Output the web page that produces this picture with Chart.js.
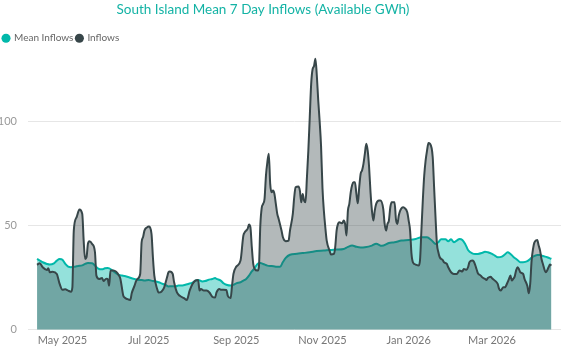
<!DOCTYPE html>
<html>
<head>
<meta charset="utf-8">
<script src="https://cdn.jsdelivr.net/npm/chart.js@4.4.1/dist/chart.umd.min.js"></script>
<style>
  html, body { margin: 0; padding: 0; background: #fff; }
  #wrap { width: 570px; height: 351px; }
</style>
</head>
<body>
<div id="wrap"><canvas id="myChart"></canvas></div>
<script>
// 日付は 2025-04-13 からの日数

// 月のラベル (日数, 表示)
var monthTickDays = [18, 79, 141, 202, 263, 322];
var monthTickLabels = ["May 2025", "Jul 2025", "Sep 2025", "Nov 2025", "Jan 2026", "Mar 2026"];

// 縦軸の目盛り
var yTicks = [0, 50, 100];

// Inflows (日数, GWh)
var inflowDays = [0, 2, 4, 7, 8, 9, 11, 14, 16, 18, 20, 22, 24, 25, 26, 28, 30, 32, 33, 34, 35, 36, 37, 39, 41, 42, 44, 46, 47, 49, 50, 51, 52, 54, 56, 58, 59, 61, 62, 64, 66, 67, 69, 70,
  71, 73, 74, 75, 76, 78, 79, 81, 82, 83, 85, 86, 88, 90, 92, 93, 94, 96, 97, 99, 101, 104, 106, 108, 110, 112, 114, 115, 116, 118, 120, 122, 124, 126, 127, 129, 130, 132, 134, 135, 137, 138, 139, 141,
  144, 146, 147, 148, 149, 150, 151, 152, 153, 154, 156, 157, 158, 159, 160, 161, 162, 163, 164, 165, 166, 167, 168, 169, 170, 171, 173, 174, 176, 178, 179, 181, 182, 183, 185, 186, 187, 188, 189, 190,
  191, 192, 193, 194, 195, 196, 197, 198, 199, 200, 201, 202, 203, 204, 205, 207, 208, 210, 211, 212, 213, 214, 216, 217, 218, 219, 220, 221, 222, 223, 224, 225, 226, 227, 228, 229, 230, 231, 232, 233,
  234, 235, 236, 237, 238, 239, 240, 242, 243, 245, 246, 247, 248, 249, 250, 251, 253, 254, 255, 256, 257, 259, 260, 262, 263, 264, 265, 266, 268, 270, 271, 272, 273, 274, 275, 276, 277, 278, 280, 281,
  282, 283, 284, 285, 287, 288, 290, 291, 293, 295, 297, 299, 301, 302, 304, 305, 306, 308, 309, 310, 311, 312, 314, 315, 317, 318, 319, 321, 322, 324, 326, 327, 328, 330, 331, 333, 334, 335, 336, 337,
  338, 339, 340, 341, 342, 344, 345, 347, 348, 349, 350, 351, 352, 354, 355, 356, 357, 358, 360, 361, 362, 363, 364];
var inflowValues = [31.2, 31.9, 30.0, 28.7, 29.5, 27.6, 27.9, 26.8, 22.0, 19.2, 19.4, 18.8, 18.3, 20.4, 47.6, 54.0, 57.7, 55.6, 42.8, 34.0, 34.8, 41.2, 42.5, 41.2, 37.2, 26.0, 24.4, 24.8, 23.4, 24.5, 24.4, 21.2, 28.4, 28.4, 27.8, 26.0, 24.4, 16.5, 15.5, 14.7, 14.3, 17.5, 21.2, 23.2,
  24.4, 26.8, 42.0, 44.4, 47.6, 49.2, 49.5, 46.0, 34.8, 26.0, 19.6, 17.9, 18.3, 20.4, 25.2, 27.6, 28.0, 26.8, 22.8, 17.9, 16.3, 15.2, 14.3, 18.8, 22.0, 23.6, 23.9, 18.8, 19.6, 18.8, 18.8, 17.9, 15.9, 15.5, 17.9, 19.6, 19.2, 19.2, 19.1, 16.3, 15.2, 21.2, 26.8, 30.3,
  33.2, 45.2, 46.8, 47.6, 48.4, 50.5, 49.2, 39.6, 31.6, 29.2, 28.4, 30.0, 50.0, 58.5, 60.4, 62.8, 74.0, 80.5, 84.5, 70.0, 66.0, 66.8, 65.2, 60.4, 55.6, 53.2, 47.6, 44.4, 42.5, 42.8, 47.6, 55.6, 63.6, 68.4, 68.8, 66.8, 61.2, 65.2, 62.0, 61.2,
  73.2, 86.1, 102.1, 118.0, 125.0, 126.5, 130.0, 122.0, 110.0, 100.0, 88.0, 68.0, 57.0, 49.2, 42.8, 38.0, 36.1, 36.4, 39.6, 47.6, 50.8, 51.6, 51.1, 52.4, 50.8, 45.2, 57.2, 60.4, 66.0, 69.5, 70.8, 70.8, 65.2, 60.7, 68.4, 74.8, 76.4, 79.6, 84.5, 89.3,
  86.0, 78.0, 66.0, 57.2, 52.4, 57.2, 60.4, 62.0, 62.0, 58.0, 50.8, 47.6, 50.8, 52.4, 58.8, 61.2, 61.2, 53.0, 50.8, 54.8, 57.2, 58.8, 58.5, 56.4, 52.4, 47.6, 36.4, 32.4, 31.3, 30.8, 33.2, 47.6, 62.0, 74.0, 81.3, 86.0, 89.6, 89.3, 82.9, 68.4,
  54.0, 41.2, 37.2, 34.8, 33.5, 32.4, 31.6, 30.0, 27.6, 26.8, 26.8, 28.4, 28.0, 29.2, 28.8, 30.0, 32.4, 33.2, 32.8, 31.3, 29.2, 27.1, 26.0, 25.2, 24.4, 23.9, 24.8, 25.5, 24.7, 23.6, 22.0, 19.6, 18.8, 20.4, 20.4, 22.8, 24.4, 26.0, 23.6, 24.4,
  25.5, 28.4, 30.0, 29.2, 27.6, 26.8, 24.4, 21.0, 17.5, 22.0, 33.2, 38.8, 42.0, 43.1, 40.4, 38.0, 34.0, 31.6, 27.6, 28.4, 30.0, 31.3, 30.8];

// Mean Inflows (日数, GWh)
var meanDays = [0, 2, 4, 7, 9, 12, 14, 16, 18, 20, 22, 24, 27, 29, 32, 34, 36, 39, 41, 43, 46, 48, 50, 53, 55, 58, 60, 62, 65, 67, 69, 72, 74, 76, 79, 81, 84, 86, 88, 91, 93, 95, 98, 100, 102, 105, 107, 110, 112, 114,
  117, 119, 121, 124, 126, 127, 130, 132, 134, 137, 139, 141, 144, 146, 148, 150, 152, 154, 156, 158, 160, 163, 166, 169, 172, 174, 176, 179, 184, 188, 193, 198, 203, 207, 212, 217, 220, 223, 226, 229,
  232, 237, 240, 244, 249, 253, 258, 263, 268, 272, 276, 279, 282, 284, 286, 289, 291, 293, 295, 297, 299, 301, 303, 305, 308, 310, 312, 315, 317, 319, 322, 324, 326, 329, 331, 333, 335, 337, 340, 342,
  344, 347, 349, 351, 354, 356, 358, 361, 363, 364];
var meanValues = [34.0, 33.2, 32.4, 31.6, 31.3, 31.9, 33.2, 34.0, 33.6, 31.6, 30.3, 30.0, 30.3, 30.6, 30.9, 31.6, 32.0, 31.9, 30.8, 29.5, 29.0, 29.5, 29.6, 28.7, 27.6, 26.3, 26.0, 25.8, 25.2, 24.7, 24.4, 23.9, 23.9, 23.6, 23.9, 23.6, 23.2, 22.8, 22.3, 21.5, 20.8, 20.9, 20.8, 21.2, 21.2, 21.6, 22.0, 22.6, 23.6, 23.9,
  23.2, 23.4, 23.9, 24.4, 24.8, 24.4, 23.6, 22.3, 21.6, 21.2, 21.6, 22.3, 22.8, 23.6, 24.4, 26.0, 28.0, 29.6, 31.6, 32.0, 31.6, 30.8, 30.6, 30.3, 30.2, 32.5, 34.5, 36.0, 36.5, 36.8, 37.2, 37.8, 38.0, 38.3, 38.5, 38.8, 39.8, 40.4, 39.8, 39.5,
  39.6, 40.4, 41.3, 40.3, 41.6, 42.0, 42.8, 43.1, 43.6, 44.4, 44.4, 43.1, 41.2, 42.0, 43.4, 43.4, 42.5, 43.4, 42.0, 42.8, 43.6, 43.1, 41.2, 38.3, 36.7, 36.4, 36.4, 36.9, 37.5, 37.2, 36.4, 35.6, 34.8, 35.1, 36.1, 37.2, 36.4, 35.1, 33.5, 32.4,
  32.4, 32.9, 34.0, 35.1, 35.9, 35.9, 35.4, 34.8, 34.3, 34.0];

function toPoints(days, values) {
    return days.map(function (d, i) { return { x: d, y: values[i] }; });
}

var font = "Lato, 'Open Sans', sans-serif";

// タイトルの中心位置を少し左へ
var titleShift = {
    id: "titleShift",
    afterLayout: function (chart) {
        chart.titleBlock.left = 0;
        chart.titleBlock.right = 526;
    },
};

var ctx = document.getElementById("myChart");
var myChart = new Chart(ctx, {
    type: "line",
    plugins: [titleShift],
    data: {
        datasets: [
            {
                label: "Mean Inflows",
                data: toPoints(meanDays, meanValues),
                borderColor: "#01B8AA",
                backgroundColor: "rgba(1, 184, 170, 0.42)",
                borderWidth: 2,
                fill: "origin",
                pointRadius: 0,
                cubicInterpolationMode: "monotone",
                order: 1,
            },
            {
                label: "Inflows",
                data: toPoints(inflowDays, inflowValues),
                borderColor: "#374649",
                backgroundColor: "rgba(55, 70, 73, 0.38)",
                borderWidth: 2,
                fill: "origin",
                pointRadius: 0,
                cubicInterpolationMode: "monotone",
                order: 0,
            },
        ],
    },
    options: {
        responsive: true,
        maintainAspectRatio: false,
        animation: false,
        layout: { padding: { left: 0, right: 9, top: 0, bottom: 0 } },
        plugins: {
            title: {
                display: true,
                text: "South Island Mean 7 Day Inflows (Available GWh)",
                color: "#14B3A5",
                font: { family: font, size: 13.5, weight: "normal" },
                padding: { top: 2, bottom: 12 },
            },
            legend: {
                position: "top",
                align: "start",
                labels: {
                    usePointStyle: true,
                    pointStyle: "circle",
                    boxWidth: 6,
                    boxHeight: 6.4,
                    padding: 3,
                    color: "#666666",
                    font: { family: font, size: 10 },
                    sort: function (a, b) { return a.datasetIndex - b.datasetIndex; },
                    generateLabels: function (chart) {
                        // 凡例の丸は塗りつぶし
                        var items = Chart.defaults.plugins.legend.labels.generateLabels(chart);
                        items.forEach(function (it) {
                            it.fillStyle = it.strokeStyle;
                            it.lineWidth = 0;
                        });
                        return items;
                    },
                },
            },
            tooltip: { enabled: false },
        },
        scales: {
            x: {
                type: "linear",
                min: -6.4,
                max: 370.8,
                grid: { display: false, drawTicks: false },
                border: { display: false },
                afterBuildTicks: function (scale) {
                    scale.ticks = monthTickDays.map(function (d) { return { value: d }; });
                },
                ticks: {
                    autoSkip: false,
                    maxRotation: 0,
                    padding: 4,
                    color: "#777777",
                    font: { family: font, size: 11 },
                    callback: function (value) {
                        var i = monthTickDays.indexOf(value);
                        return i >= 0 ? monthTickLabels[i] : "";
                    },
                },
            },
            y: {
                min: 0,
                max: 132.7,
                grid: { color: "#E6E6E6", drawTicks: false },
                border: { display: false },
                afterFit: function (scale) { scale.width = 28; },
                afterBuildTicks: function (scale) {
                    scale.ticks = yTicks.map(function (v) { return { value: v }; });
                },
                ticks: {
                    padding: 11,
                    color: "#999999",
                    font: { family: font, size: 11 },
                },
            },
        },
    },
});
</script>
</body>
</html>
